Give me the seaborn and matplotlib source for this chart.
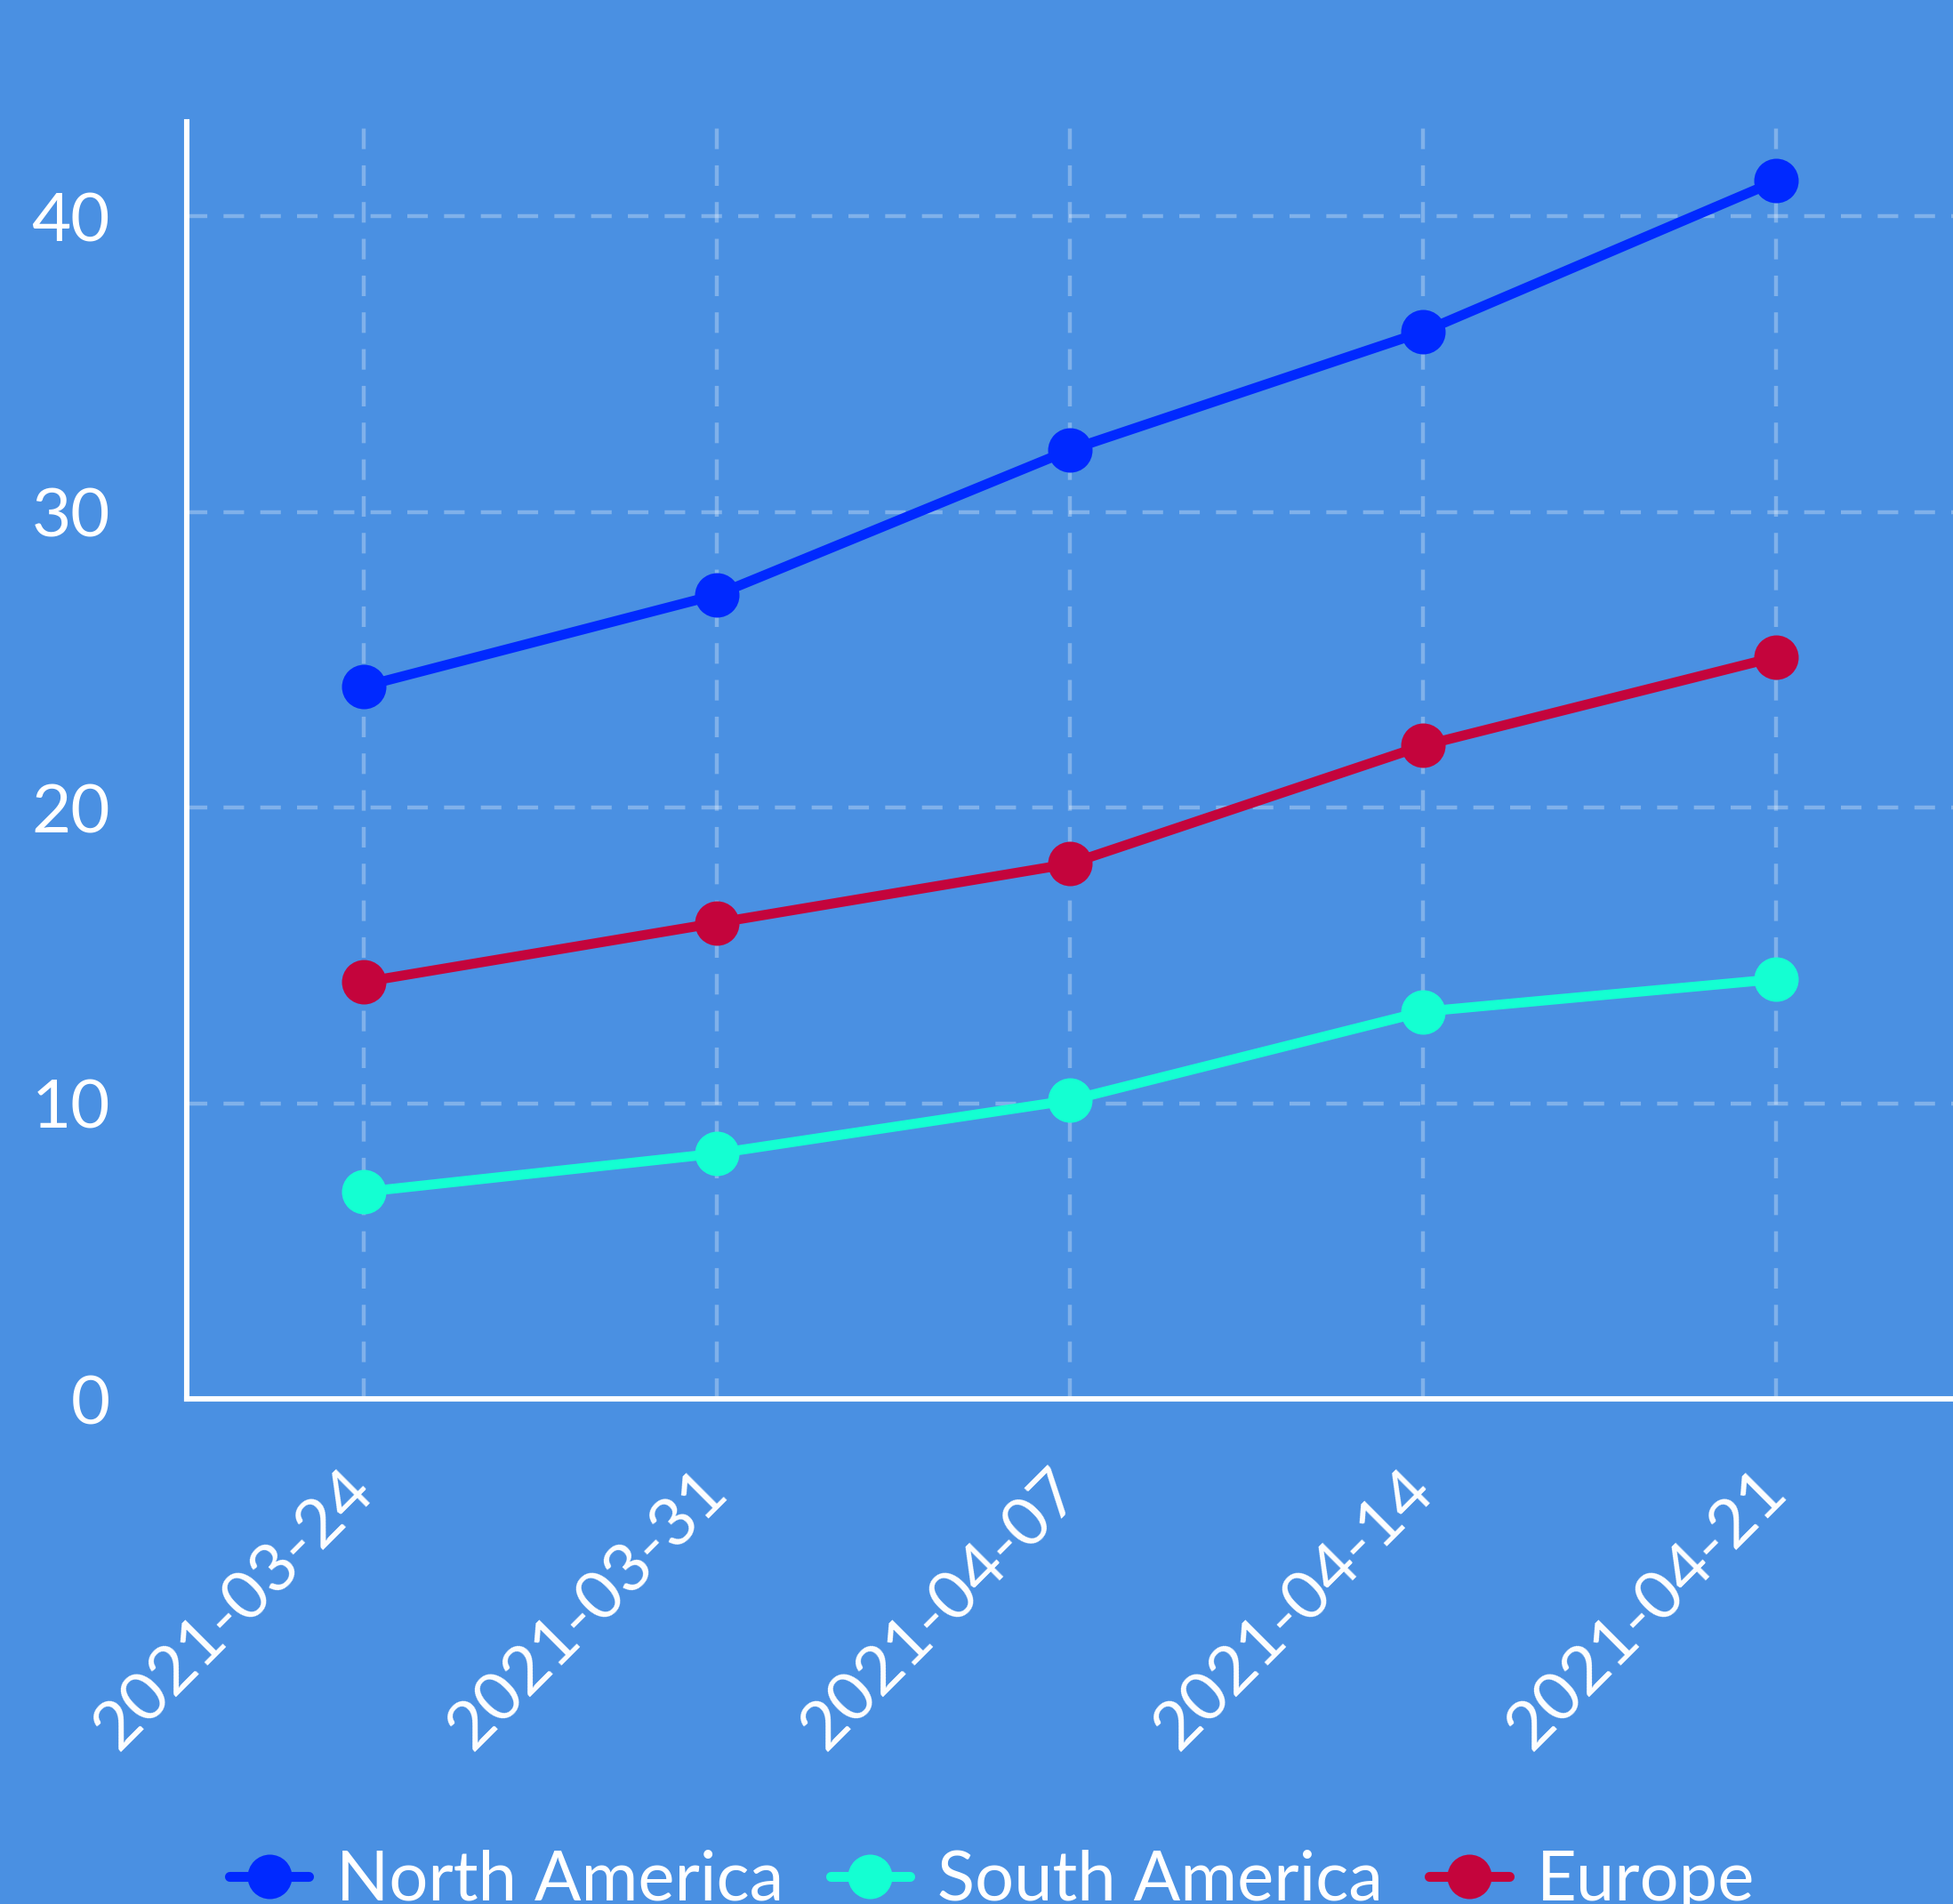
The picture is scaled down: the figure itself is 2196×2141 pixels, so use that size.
import matplotlib
matplotlib.use("Agg")
import matplotlib.pyplot as plt
import seaborn as sns
import pandas as pd

weeks = ["2021-03-24", "2021-03-31", "2021-04-07", "2021-04-14", "2021-04-21"]
north_america = [24.1, 27.2, 32.1, 36.1, 41.2]
south_america = [7.0, 8.3, 10.1, 13.1, 14.2]
europe = [14.1, 16.1, 18.1, 22.1, 25.1]
regions = ["North America", "South America", "Europe"]
colors = ["#0029FF", "#14FFD2", "#C4043C"]
yticks = [0, 10, 20, 30, 40]

df = pd.DataFrame({
    "week": weeks * 3,
    "value": north_america + south_america + europe,
    "region": [r for r in regions for _ in weeks],
})

bg = "#4A90E2"
sns.set_theme(style="white")
plt.rcParams["font.family"] = ["Lato", "DejaVu Sans"]

W, H = 2196, 2141
fig = plt.figure(figsize=(W / 200, H / 200), dpi=200, facecolor=bg)
ax = fig.add_axes([210 / W, 1 - 1573 / H, 1 - 210 / W, (1573 - 137) / H])
ax.set_facecolor(bg)

sns.lineplot(data=df, x="week", y="value", hue="region", palette=colors,
             marker="o", markersize=18, markeredgewidth=0, linewidth=4,
             sort=False, ax=ax)

ax.set_xlim(-0.5, 4.5)
ax.set_ylim(0, 43.2)
ax.set_yticks(yticks)
ax.set_xlabel("")
ax.set_ylabel("")
ax.set_axisbelow(True)
ax.grid(True, color="white", alpha=0.3, linewidth=1.6, linestyle=(0, (5.2, 4.1)))

for s in ["top", "right"]:
    ax.spines[s].set_visible(False)
for s in ["left", "bottom"]:
    ax.spines[s].set_color("white")
    ax.spines[s].set_linewidth(2.2)

ax.tick_params(axis="both", length=0, colors="white", labelsize=27.5)
ax.tick_params(axis="y", pad=31)
ax.tick_params(axis="x", pad=33)
plt.setp(ax.get_xticklabels(), rotation=45, ha="right", va="center",
         rotation_mode="anchor")

handles, labels = ax.get_legend_handles_labels()
ax.legend_.remove()
fig.legend(handles, labels, loc="center", bbox_to_anchor=(0.508, 0.012),
           ncol=3, frameon=False, fontsize=28, labelcolor="white",
           handlelength=1.15, handletextpad=0.4, columnspacing=0.67)

fig.savefig("out.png", dpi=200, facecolor=bg)
